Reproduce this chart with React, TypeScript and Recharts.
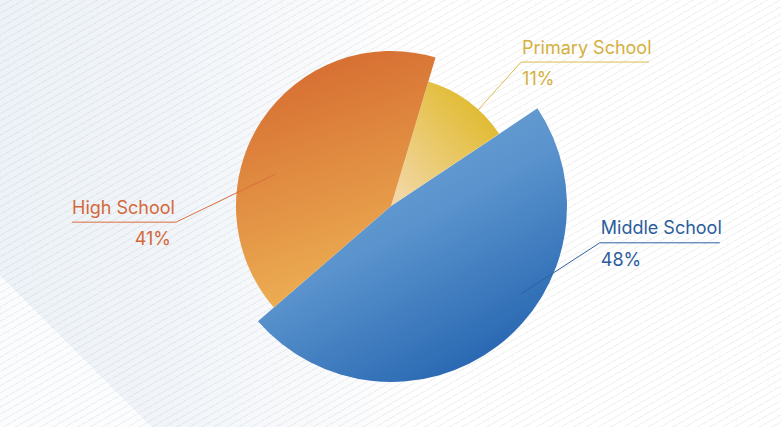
import React from 'react';
import { Cell, Pie, PieChart } from 'recharts';

// share of students by school level (%)
const CATEGORIES = ['Middle School', 'Primary School', 'High School'];
const SHARES = [48, 11, 41];

const data = CATEGORIES.map((name, i) => ({ name, value: SHARES[i] }));

const WIDTH = 781;
const HEIGHT = 427;
const FONT = 'Inter, "Noto Sans", "DejaVu Sans", sans-serif';

type Side = 'left' | 'right';

// per slice look: radius of the wedge, gradient id, text and leader colours
const SLICE_STYLE: Record<string, { radius: number; fill: string; text: string; line: string }> = {
  'Middle School': { radius: 176, fill: 'url(#gradMiddle)', text: '#2c5d9c', line: '#2f609f' },
  'Primary School': { radius: 130, fill: 'url(#gradPrimary)', text: '#d5b03f', line: '#dcbd4c' },
  'High School': { radius: 155, fill: 'url(#gradHigh)', text: '#d4683a', line: '#d86f3e' },
};

// leader line layout: [angle in degrees, radius] from the pie centre
const LABEL_LAYOUT: Record<string, { anchor: [number, number]; elbow: [number, number]; side: Side; len: number }> = {
  'Middle School': { anchor: [326, 157], elbow: [350, 212], side: 'right', len: 120 },
  'Primary School': { anchor: [47.7, 104], elbow: [47.9, 194], side: 'right', len: 128 },
  'High School': { anchor: [164.6, 120], elbow: [184.3, 215.6], side: 'left', len: 104 },
};

const RAD = Math.PI / 180;
function polar(cx: number, cy: number, angle: number, r: number) {
  return { x: cx + r * Math.cos(angle * RAD), y: cy - r * Math.sin(angle * RAD) };
}

function makeLabel(visible: string) {
  return (props: any) => {
    const name = props.payload?.name ?? props.name;
    if (name !== visible) return null;
    const { cx, cy } = props;
    const value = props.payload?.value ?? props.value;
    const layout = LABEL_LAYOUT[name];
    const style = SLICE_STYLE[name];
    const a = polar(cx, cy, layout.anchor[0], layout.anchor[1]);
    const e = polar(cx, cy, layout.elbow[0], layout.elbow[1]);
    const endX = layout.side === 'right' ? e.x + layout.len : e.x - layout.len;
    const textX = layout.side === 'right' ? e.x + 1 : endX;

    return (
      <g>
        <polyline
          points={`${a.x},${a.y} ${e.x},${e.y} ${endX},${e.y}`}
          fill="none"
          stroke={style.line}
          strokeWidth={1}
        />
        <text
          x={textX}
          y={e.y - 8.5}
          fill={style.text}
          fontSize={18}
          fontFamily={FONT}
          textAnchor="start"
        >
          {name}
        </text>
        <text
          x={layout.side === 'right' ? textX : e.x - 5}
          y={e.y + 23}
          fill={style.text}
          fontSize={18}
          fontFamily={FONT}
          textAnchor={layout.side === 'right' ? 'start' : 'end'}
        >
          {`${value}%`}
        </text>
      </g>
    );
  };
}

const background = [
  'repeating-linear-gradient(150deg, rgba(0,0,0,0) 0px, rgba(0,0,0,0) 5px, rgba(120,120,120,0.09) 5px, rgba(120,120,120,0.09) 6.2px)',
  'linear-gradient(45deg, rgba(255,255,255,0.8) 107px, rgba(255,255,255,0) 107px)',
  'linear-gradient(90deg, #edf2f8 0%, #f1f5f9 22%, #f9fafc 40%, #ffffff 55%)',
].join(', ');

export default function App() {
  return (
    <div
      style={{
        position: 'absolute',
        left: 0,
        top: 0,
        width: WIDTH,
        height: HEIGHT,
        background,
        overflow: 'hidden',
      }}
    >
      <PieChart width={WIDTH} height={HEIGHT} margin={{ top: 0, right: 0, bottom: 0, left: 0 }}>
        <defs>
          <linearGradient id="gradMiddle" x1="0.15" y1="0.05" x2="0.75" y2="1">
            <stop offset="0%" stopColor="#74a6d8" />
            <stop offset="45%" stopColor="#5a93cd" />
            <stop offset="100%" stopColor="#2262ae" />
          </linearGradient>
          <linearGradient id="gradHigh" x1="0.3" y1="0" x2="0.55" y2="1">
            <stop offset="0%" stopColor="#d56a30" />
            <stop offset="100%" stopColor="#eeb355" />
          </linearGradient>
          <linearGradient id="gradPrimary" x1="0.9" y1="0.1" x2="0.1" y2="0.95">
            <stop offset="0%" stopColor="#dfb824" />
            <stop offset="100%" stopColor="#f2d7a4" />
          </linearGradient>
        </defs>
        {CATEGORIES.map((visible) => (
          <Pie
            key={visible}
            data={data}
            dataKey="value"
            nameKey="name"
            cx={391}
            cy={206}
            innerRadius={0}
            outerRadius={SLICE_STYLE[visible].radius}
            startAngle={220.9}
            endAngle={580.9}
            stroke="none"
            isAnimationActive={false}
            labelLine={false}
            label={makeLabel(visible)}
          >
            {data.map((d) => (
              <Cell
                key={d.name}
                fill={d.name === visible ? SLICE_STYLE[visible].fill : 'none'}
                stroke="none"
              />
            ))}
          </Pie>
        ))}
      </PieChart>
    </div>
  );
}
